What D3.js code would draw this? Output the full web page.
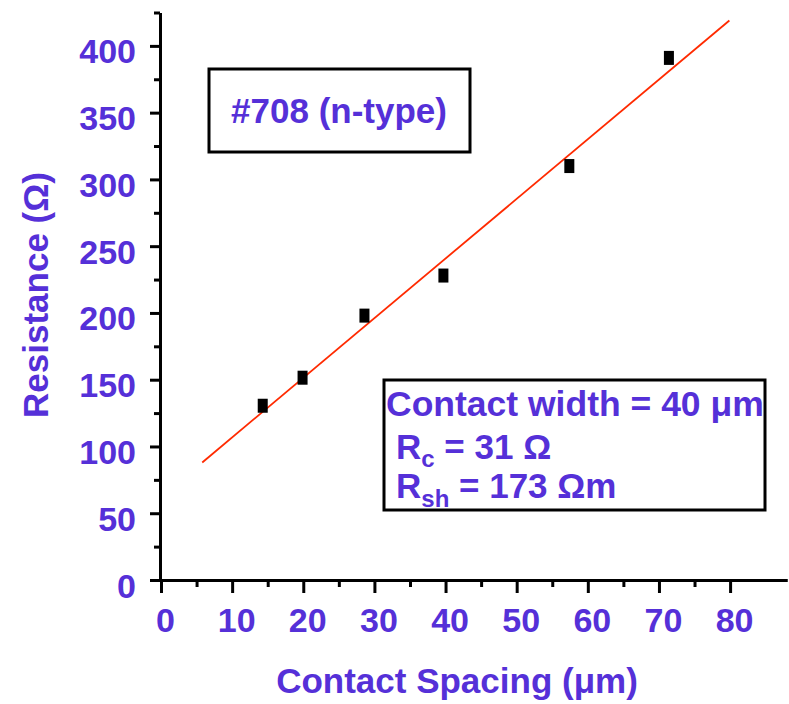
<!DOCTYPE html>
<html>
<head>
<meta charset="utf-8">
<script src="https://cdn.jsdelivr.net/npm/d3@7"></script>
<style>
  body { margin: 0; background: #fff; }
  text { font-family: "Liberation Sans", Arial, sans-serif; font-weight: bold; fill: #5530d8; }
  .axis path, .axis line { stroke: #000; stroke-width: 3; }
</style>
</head>
<body>
<script>
// measured points (contact spacing in um, resistance in ohm)
let spacing = [14.3, 19.9, 28.6, 39.7, 57.4, 71.4];
let resistance = [130.5, 151.5, 198, 228, 310, 391];

// linear fit drawn as a red line
let fitX = [5.8, 79.9];
let fitY = [88, 419];

let xMajor = [0, 10, 20, 30, 40, 50, 60, 70, 80];
let xMinor = [5, 15, 25, 35, 45, 55, 65, 75];
let yMajor = [0, 50, 100, 150, 200, 250, 300, 350, 400];
let yMinor = [25, 75, 125, 175, 225, 275, 325, 375, 425];

let width = 789, height = 704;

let xScale = d3.scaleLinear()
                .domain([0, 88])
                .range([161, 787]);

let yScale = d3.scaleLinear()
                .domain([0, 425])
                .range([580, 12.5]);

let svg = d3.select('body').append('svg')
        .attr('width', width)
        .attr('height', height);

// minor ticks first, then major ticks with labels
svg.append('g')
        .attr('class', 'axis')
        .attr('transform', 'translate(0, 580)')
        .call(d3.axisBottom(xScale).tickValues(xMinor).tickSize(7).tickSizeOuter(0).tickFormat(''));

let xAxis = svg.append('g')
        .attr('class', 'axis')
        .attr('transform', 'translate(0, 580)')
        .call(d3.axisBottom(xScale).tickValues(xMajor).tickSize(13).tickSizeOuter(0).tickPadding(15));

xAxis.selectAll('text')
        .attr('dx', 4)
        .style('font-size', '34px')
        .attr('fill', null);

svg.append('g')
        .attr('class', 'axis')
        .attr('transform', 'translate(160, 0)')
        .call(d3.axisLeft(yScale).tickValues(yMinor).tickSize(6).tickSizeOuter(0).tickFormat(''));

let yAxis = svg.append('g')
        .attr('class', 'axis')
        .attr('transform', 'translate(160, 0)')
        .call(d3.axisLeft(yScale).tickValues(yMajor).tickSize(10).tickSizeOuter(0).tickPadding(14));

yAxis.selectAll('text')
        .attr('dy', '0.5em')
        .style('font-size', '34px')
        .attr('fill', null);

// axis titles
svg.append('text')
        .attr('x', 457)
        .attr('y', 693)
        .attr('text-anchor', 'middle')
        .style('font-size', '35px')
        .text('Contact Spacing (\u03bcm)');

svg.append('text')
        .attr('transform', 'translate(48, 295) rotate(-90)')
        .attr('text-anchor', 'middle')
        .style('font-size', '35px')
        .text('Resistance (\u03a9)');

// fit line
let line = d3.line()
        .x(function(d){ return xScale(d[0]); })
        .y(function(d){ return yScale(d[1]); });

svg.append('path')
        .datum(d3.zip(fitX, fitY))
        .attr('d', line)
        .attr('fill', 'none')
        .attr('stroke', '#ff2a00')
        .attr('stroke-width', 1.8);

// data markers
svg.selectAll('.pt')
    .data(d3.zip(spacing, resistance))
  .enter().append('rect')
    .attr('class', 'pt')
    .attr('x', function(d){ return xScale(d[0]) - 5; })
    .attr('y', function(d){ return yScale(d[1]) - 7; })
    .attr('width', 10)
    .attr('height', 14)
    .attr('fill', '#000');

// sample label box
svg.append('rect')
        .attr('x', 209).attr('y', 69)
        .attr('width', 261).attr('height', 83)
        .attr('fill', '#fff')
        .attr('stroke', '#000')
        .attr('stroke-width', 3);

svg.append('text')
        .attr('x', 339)
        .attr('y', 123)
        .attr('text-anchor', 'middle')
        .style('font-size', '35px')
        .text('#708 (n-type)');

// results box
svg.append('rect')
        .attr('x', 384).attr('y', 380)
        .attr('width', 381).attr('height', 130)
        .attr('fill', '#fff')
        .attr('stroke', '#000')
        .attr('stroke-width', 3);

svg.append('text')
        .attr('x', 386)
        .attr('y', 416)
        .style('font-size', '35.5px')
        .text('Contact width = 40 \u03bcm');

let rc = svg.append('text')
        .attr('x', 396)
        .attr('y', 459)
        .style('font-size', '35px');
rc.append('tspan').text('R');
rc.append('tspan').attr('dy', 8).style('font-size', '24px').text('c');
rc.append('tspan').attr('dy', -8).text(' = 31 \u03a9');

let rsh = svg.append('text')
        .attr('x', 396)
        .attr('y', 498)
        .style('font-size', '35px');
rsh.append('tspan').text('R');
rsh.append('tspan').attr('dy', 9).style('font-size', '24px').text('sh');
rsh.append('tspan').attr('dy', -9).text(' = 173 \u03a9m');
</script>
</body>
</html>
